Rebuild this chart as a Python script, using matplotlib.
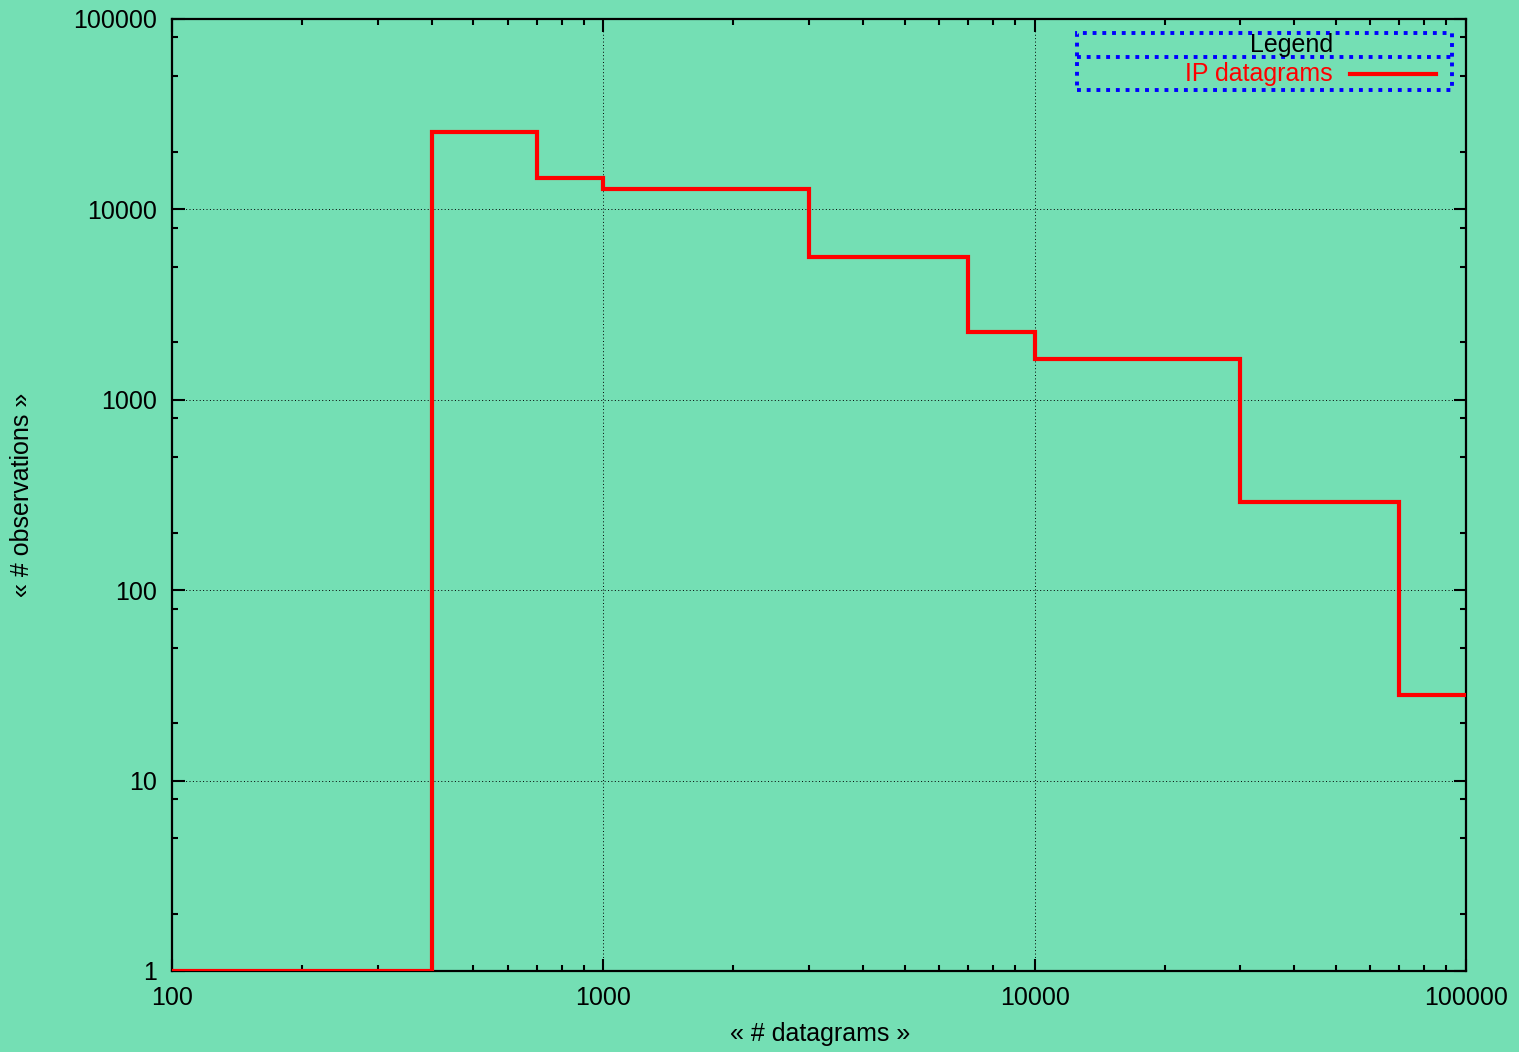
import matplotlib
matplotlib.use("Agg")
import matplotlib.pyplot as plt
from matplotlib.patches import Rectangle
from matplotlib.lines import Line2D
from matplotlib.ticker import LogLocator, FixedLocator, NullFormatter

# ---- data ----
bin_edges = [100, 400, 700, 1000, 3000, 7000, 10000, 30000, 70000, 100000]
observations = [1, 25500, 14600, 12800, 5650, 2270, 1640, 290, 28]
x_ticks = [100, 1000, 10000, 100000]
x_tick_labels = ["100", "1000", "10000", "100000"]
y_ticks = [1, 10, 100, 1000, 10000, 100000]
y_tick_labels = ["1", "10", "100", "1000", "10000", "100000"]
series_name = "IP datagrams"
legend_title = "Legend"

BG = "#74dfb4"
plt.rcParams['font.family'] = ['Liberation Sans', 'DejaVu Sans']

W, H = 1519, 1052
fig = plt.figure(figsize=(W / 100, H / 100), dpi=100, facecolor=BG)
L, R, T, B = 172, 1466, 19, 971
ax = fig.add_axes([L / W, 1 - B / H, (R - L) / W, (B - T) / H], facecolor=BG)

ax.stairs(observations, bin_edges, baseline=None, color="#ff0000", lw=3.0, zorder=3)

ax.set_xscale("log")
ax.set_yscale("log")
ax.set_xlim(100, 100000)
ax.set_ylim(1, 100000)

ax.xaxis.set_major_locator(FixedLocator(x_ticks))
ax.set_xticklabels(x_tick_labels)
ax.yaxis.set_major_locator(FixedLocator(y_ticks))
ax.set_yticklabels(y_tick_labels)
ax.xaxis.set_minor_locator(LogLocator(base=10, subs=range(2, 10)))
ax.yaxis.set_minor_locator(LogLocator(base=10, subs=(2, 5, 8)))
ax.xaxis.set_minor_formatter(NullFormatter())
ax.yaxis.set_minor_formatter(NullFormatter())

ax.tick_params(which="both", direction="in", top=True, right=True, width=1.5, color="black")
ax.tick_params(which="major", length=9, labelsize=18, pad=11)
ax.tick_params(which="minor", length=4.5)
for s in ax.spines.values():
    s.set_linewidth(1.6)
    s.set_color("black")

ax.grid(True, which="major", color="black", linestyle=(0, (1, 2.5)), linewidth=0.7)
ax.set_axisbelow(True)

fig.text(820 / W, 1 - 1034 / H, "« # datagrams »", ha="center", va="center", fontsize=18)
fig.text(22 / W, 1 - 495 / H, "« # observations »", ha="center", va="center", rotation=90, fontsize=18)

# ---- legend (gnuplot style) ----
def fx(px):
    return px / W

def fy(py):
    return 1 - py / H

dot = dict(color="#0000ff", lw=2.8, linestyle=(0, (1, 1.5)), transform=fig.transFigure, zorder=5)
box = Rectangle((fx(1077), fy(90)), fx(1452) - fx(1077), fy(33) - fy(90),
                fill=False, edgecolor="#0000ff", lw=2.8, linestyle=(0, (1, 1.5)),
                transform=fig.transFigure, zorder=5)
fig.add_artist(box)
fig.add_artist(Line2D([fx(1077), fx(1452)], [fy(57), fy(57)], **dot))
fig.text(fx(1333), fy(45), legend_title, ha="right", va="center", fontsize=18, color="black", zorder=6)
fig.text(fx(1333), fy(74), series_name, ha="right", va="center", fontsize=18, color="#ff0000", zorder=6)
fig.add_artist(Line2D([fx(1350), fx(1436)], [fy(74), fy(74)], color="#ff0000", lw=3.0,
                      transform=fig.transFigure, zorder=6))

fig.savefig("out.png", dpi=100, facecolor=BG)
